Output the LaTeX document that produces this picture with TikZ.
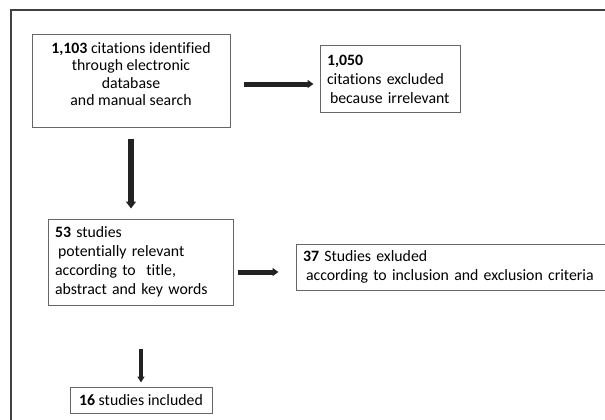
\documentclass[tikz,border=0pt]{standalone}
\usepackage{fontspec}
\setmainfont[Ligatures={NoCommon}]{Carlito}
\usetikzlibrary{arrows.meta}
\definecolor{boxgray}{HTML}{666666}
\definecolor{arrowdark}{HTML}{222222}
\tikzset{
  box/.style={draw=boxgray, line width=1pt, inner xsep=7pt, inner ysep=0pt, font=\fontsize{15.8pt}{19pt}\selectfont},
  arr/.style={draw=arrowdark, -{Triangle[width=8pt,length=6pt]}},
}
\begin{document}
\begin{tikzpicture}[x=1pt,y=-1pt]
\useasboundingbox (0,0) rectangle (605,420);
\clip (0,0) rectangle (605,420);
\fill[white] (0,0) rectangle (605,420);
\draw[draw=black!75, line width=1.2pt] (11,440) -- (11,10) -- (630,10);
% boxes
\node[box, minimum width=198pt, minimum height=92pt] (box1) at (131,81) {};
\node[font=\fontsize{15.8pt}{17.5pt}\selectfont, align=center, inner sep=0pt] (t1) at (131,74)
  {\textbf{1,103} citations identified\\through electronic\\database\\and manual search};
\node[box, minimum width=140pt, minimum height=66pt, text width=126pt, align=left] (box2) at (390,79)
  {\textbf{1,050}\\citations excluded\\\hspace*{3pt}because irrelevant};
\node[box, minimum width=185pt, minimum height=86pt, text width=171pt, align=left] (box3) at (140.5,262)
  {\textbf{53} studies\\\hspace*{3pt}potentially relevant\\according to\ \ title,\\abstract and key words};
\node[box, minimum width=330pt, minimum height=46pt, text width=316pt, align=left] (box4) at (461,267)
  {\textbf{37} Studies exluded\\\hspace*{3pt}according to inclusion and exclusion criteria};
\node[box, minimum width=142pt, minimum height=26pt, align=center] (box5) at (141,400)
  {\textbf{16} studies included};
% arrows
\draw[arr, line width=5pt, shorten <=13pt, shorten >=6pt]
  ([yshift=-3pt]box1.east) -- ([yshift=-3pt]box1.east -| box2.west);
\draw[arr, line width=6.5pt, -{Triangle[width=10pt,length=7pt]}, shorten <=11pt, shorten >=10pt]
  (box1.south) -- (box1.south |- box3.north);
\draw[arr, line width=5pt, shorten <=4pt, shorten >=17pt]
  ([yshift=-10pt]box3.east) -- ([yshift=-10pt]box3.east -| box4.west);
\draw[arr, line width=4pt, -{Triangle[width=7pt,length=6pt]}, shorten <=43pt, shorten >=4pt]
  ([xshift=0.5pt]box3.south) -- ([xshift=0.5pt]box3.south |- box5.north);
\end{tikzpicture}
\end{document}
